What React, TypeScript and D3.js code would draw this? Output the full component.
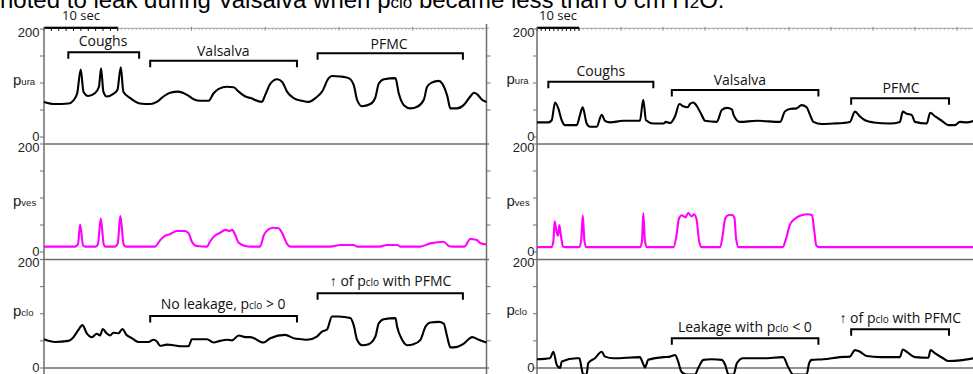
import React from 'react';
import * as d3 from 'd3';

type Pt = [number, number];

// ---------- data (time in seconds, pressure in cm H2O) ----------
const yTickValues = [0, 50, 100, 150, 200];
const yLabelValues = [0, 200];
const leftSpanSec = 60;
const rightSpanSec = 104;
const scaleBarSec = 10;
const scaleBarLabel = '10 sec';
const channelNames = ['ura', 'ves', 'clo'];

const leftPura: Pt[] = [[0,65],[1.5,61],[3.3,62],[4.0,68],[4.5,81],[4.98,125],[5.35,84],[6.0,76],[6.9,81],[7.45,93],[7.74,127],[8.05,84],[8.5,75],[9.4,80],[9.95,87],[10.41,129],[10.76,84],[11.7,72],[13.0,62],[14.4,61],[15.3,65],[16.2,75],[17.1,82],[18.2,84],[19.4,78],[20.3,70],[21.2,67],[22.3,67],[23.0,81],[23.7,89],[24.8,93],[25.7,92],[26.4,84],[27.3,75],[28.0,72],[29.55,65],[30.0,78],[30.7,99],[31.6,107],[32.3,102],[32.95,84],[33.85,72],[35.0,67],[35.9,65],[36.8,72],[37.7,84],[38.6,109],[39.05,113],[40.2,112],[41.3,109],[42.0,96],[42.45,69],[43.1,57],[44.25,61],[44.9,72],[45.4,99],[46.1,107],[47.65,109],[48.1,81],[48.8,59],[49.7,53],[50.6,56],[51.5,69],[51.95,93],[52.6,101],[53.5,104],[54.0,99],[54.7,75],[55.1,53],[56.0,53],[56.9,59],[57.8,75],[58.3,82],[58.75,79],[59.4,69],[60,65]];

const leftPves: Pt[] = [[0,10],[4.2,10],[4.6,14],[4.9,51],[5.3,12],[5.6,10],[7.0,10],[7.3,14],[7.7,62],[8.1,14],[8.3,10],[9.6,10],[10.0,16],[10.35,67],[10.8,14],[11.1,10],[15.05,10],[15.75,22],[16.4,30],[17.1,33],[18.0,39],[19.1,39],[19.6,35],[20.05,19],[20.7,11],[22.1,10],[22.5,19],[23.0,28],[23.9,36],[24.6,41],[25.2,39],[25.5,41],[25.95,31],[26.4,17],[27.3,11],[28.0,10],[29.3,10],[29.8,31],[30.45,42],[31.1,45],[31.8,44],[32.3,35],[32.95,15],[33.4,10],[38.8,10],[40.2,13],[42.0,13],[42.5,10],[45.5,10],[46.5,13],[47.9,13],[48.3,10],[51.0,10],[52.4,16],[54.2,19],[54.9,11],[55.5,10],[57.0,10],[57.8,24],[58.7,22],[59.2,16],[60,14]];

const leftPclo: Pt[] = [[0,53],[1.5,48],[3.3,50],[4.0,57],[4.65,70],[5.2,79],[5.8,64],[6.5,57],[7.15,63],[7.6,60],[7.97,72],[8.5,64],[8.96,60],[9.4,65],[10.1,64],[10.63,72],[11.2,61],[11.9,55],[12.8,48],[14.16,48],[14.84,52],[15.3,49],[15.75,41],[16.66,43],[17.55,42],[18.7,40],[19.6,40],[20.05,53],[21.18,53],[22.1,53],[23.0,47],[23.9,50],[24.8,52],[25.5,51],[26.4,60],[27.3,57],[27.96,57],[29.77,47],[30.68,55],[32.7,61],[33.84,55],[34.98,53],[35.66,52],[37.0,58],[37.7,67],[38.38,71],[39.05,95],[39.95,95],[41.54,92],[41.99,79],[42.45,52],[43.13,42],[44.02,44],[44.93,58],[45.38,82],[46.06,90],[47.65,92],[47.88,76],[48.56,52],[49.24,42],[50.13,44],[51.04,52],[51.72,76],[52.4,84],[53.52,85],[54.2,82],[54.66,58],[55.11,38],[56.02,39],[56.92,45],[58.06,57],[58.96,52],[60,47]];

const rightPura: Pt[] = [[0,27],[2.7,27],[3.5,31],[4.3,64],[5.07,53],[5.88,31],[6.67,22],[9.45,22],[10.24,41],[10.88,55],[11.83,25],[12.62,19],[14.2,19],[15.4,41],[16.2,30],[17.4,27],[20.5,30],[24.5,30],[25.3,69],[25.95,31],[27.7,25],[30.1,25],[30.7,28],[31.7,26],[32.9,39],[33.9,61],[34.8,57],[35.9,55],[36.4,61],[37.2,64],[37.9,59],[39.2,41],[40.0,30],[42.8,28],[44.0,50],[45.2,54],[46.4,51],[46.8,41],[48.3,28],[52.3,30],[57.9,28],[59.0,47],[60.2,52],[61.8,53],[63.0,59],[64.2,55],[65.0,41],[65.8,28],[67.8,24],[70.5,25],[72.9,26],[74.5,28],[75.7,47],[76.9,38],[78.1,31],[80.1,27],[84.0,25],[86.4,28],[87.1,47],[88.0,43],[89.2,41],[90.0,28],[92.8,25],[93.6,45],[94.8,38],[96.4,30],[97.9,22],[99.5,22],[100.7,28],[102.3,27],[104,30]];

const rightPves: Pt[] = [[0,9],[3.4,9],[3.9,20],[4.2,57],[4.6,40],[5.0,30],[5.3,50],[5.7,30],[6.2,10],[6.8,9],[10.0,9],[10.5,20],[10.9,68],[11.3,20],[11.8,9],[24.5,9],[25.0,20],[25.3,72],[25.7,20],[26.2,9],[32.5,9],[33.2,30],[33.8,62],[34.5,68],[35.3,64],[36.0,72],[36.8,66],[37.4,70],[38.0,60],[38.6,20],[39.2,9],[43.6,9],[44.2,30],[44.8,62],[45.5,68],[46.4,69],[47.0,64],[47.4,25],[48.0,9],[58.5,9],[59.3,25],[60.2,50],[61.5,62],[63.0,68],[64.5,70],[65.5,68],[66.0,40],[66.5,12],[67.2,9],[104,9]];

const rightPclo: Pt[] = [[0,16],[3.1,18],[3.9,30],[4.7,6],[5.5,0],[5.9,12],[9.45,18],[10.1,18],[10.6,0],[11.0,-12],[11.8,-12],[12.2,9],[13.8,18],[15.4,30],[16.2,21],[18.2,18],[24.5,20],[25.2,9],[25.7,1],[26.5,15],[30.1,20],[31.7,21],[32.9,24],[33.6,12],[34.4,-7],[35.6,-12],[37.6,-12],[38.4,0],[39.6,15],[41.6,16],[44.0,15],[44.8,6],[45.6,-12],[46.8,-12],[47.6,9],[49.1,18],[53.9,18],[58.6,20],[59.8,2],[61.0,-12],[64.2,-12],[64.8,9],[65.4,15],[68.2,16],[72.1,20],[74.5,21],[75.7,33],[76.9,30],[78.5,22],[81.7,20],[86.4,20],[87.1,34],[88.0,30],[90.0,20],[93.2,19],[93.7,33],[94.8,27],[96.7,18],[97.9,13],[100.7,14],[104,18]];

type Part = [string, boolean]; // [text, isSubscript]
type Ann = { row: number; t0: number; t1: number; tc: number; parts: Part[] };

const titleParts: Part[] = [
  ['noted to leak during Valsalva when p', false], ['clo', true],
  [' became less than 0 cm H', false], ['2', true], ['O.', false],
];

const leftAnnotations: Ann[] = [
  { row: 0, t0: 3.3, t1: 12.9, tc: 8.0, parts: [['Coughs', false]] },
  { row: 0, t0: 14.4, t1: 34.3, tc: 24.3, parts: [['Valsalva', false]] },
  { row: 0, t0: 37.1, t1: 56.8, tc: 46.8, parts: [['PFMC', false]] },
  { row: 2, t0: 14.4, t1: 34.3, tc: 24.3, parts: [['No leakage, p', false], ['clo', true], [' > 0', false]] },
  { row: 2, t0: 37.1, t1: 56.8, tc: 47.0, parts: [['\u2191 of p', false], ['clo', true], [' with PFMC', false]] },
];
const rightAnnotations: Ann[] = [
  { row: 0, t0: 2.7, t1: 27.7, tc: 15.2, parts: [['Coughs', false]] },
  { row: 0, t0: 32.1, t1: 67.0, tc: 48.3, parts: [['Valsalva', false]] },
  { row: 0, t0: 74.8, t1: 98.1, tc: 86.7, parts: [['PFMC', false]] },
  { row: 2, t0: 32.1, t1: 67.0, tc: 49.5, parts: [['Leakage with p', false], ['clo', true], [' < 0', false]] },
  { row: 2, t0: 74.8, t1: 98.1, tc: 86.5, parts: [['\u2191 of p', false], ['clo', true], [' with PFMC', false]] },
];

// ---------- layout ----------
const W = 973;
const H = 374;
const ROWS = [
  { y200: 29, y0: 137 },
  { y200: 144, y0: 252 },
  { y200: 259.5, y0: 368 },
];
const AXIS = '#6e6e6e';
const RULER = '#9a9a9a';
const LABEL_FONT = "'Open Sans', 'Noto Sans', sans-serif";
const NUM_FONT = "'Liberation Sans', Arial, sans-serif";

type Layout = {
  xStart: number;
  xEnd: number;
  lineEnd: number;
  rightBorder: boolean;
  minorStep: number;
  rowLabelX: number;
  rowLabelBase: number[];
  annBracketY: number[];
  annBaseY: number[];
  scaleLabelX: number;
  tickLabelGap: number;
};

const leftLayout: Layout = {
  xStart: 44, xEnd: 486.5, lineEnd: 489, rightBorder: true, minorStep: 0.5,
  rowLabelX: 13, rowLabelBase: [84.5, 206, 316],
  annBracketY: [52.3, 60.7, 53.3, 316, 293.3],
  annBaseY: [46, 55.5, 49, 309, 286],
  scaleLabelX: 81, tickLabelGap: 4.5,
};
const rightLayout: Layout = {
  xStart: 537, xEnd: 973.8, lineEnd: 975, rightBorder: false, minorStep: 1,
  rowLabelX: 506.5, rowLabelBase: [83.5, 206, 314.5],
  annBracketY: [81.7, 90, 98.3, 338.3, 329.3],
  annBaseY: [75.5, 85, 92.5, 332, 322.5],
  scaleLabelX: 558, tickLabelGap: 2.5,
};

function Panel({ layout, span, series, anns }: { layout: Layout; span: number; series: Pt[][]; anns: Ann[] }) {
  const x = d3.scaleLinear().domain([0, span]).range([layout.xStart, layout.xEnd]);
  const x0 = layout.xStart;
  const rulerY = 28.3;
  const minorTicks = d3.range(scaleBarSec, span + 0.001, layout.minorStep);
  const barTicks = d3.range(0, scaleBarSec + 1);
  return (
    <g>
      {/* time ruler on top */}
      <line x1={x0} x2={layout.lineEnd} y1={rulerY} y2={rulerY} stroke={RULER} strokeWidth={0.9} />
      {minorTicks.map((s, k) => {
        const major = Math.abs(s % 10) < 1e-6;
        return (
          <line key={'st' + k} x1={x(s)} x2={x(s)} y1={rulerY - (major ? 1.5 : 0)} y2={rulerY + (major ? 2.5 : 1.6)}
            stroke={major ? AXIS : RULER} strokeWidth={0.8} />
        );
      })}
      <rect x={x(0)} y={rulerY - 1.6} width={x(scaleBarSec) - x(0)} height={2.2} fill="#000" />
      {barTicks.map((s) => (
        <line key={'bt' + s} x1={x(s)} x2={x(s)} y1={rulerY} y2={rulerY + 2.6} stroke="#000" strokeWidth={1} />
      ))}
      <text x={layout.scaleLabelX} y={19.5} fontFamily={LABEL_FONT} fontSize={13} textAnchor="middle" fill="#111">{scaleBarLabel}</text>

      {/* y axis */}
      <line x1={x0} x2={x0} y1={27} y2={H + 2} stroke={AXIS} strokeWidth={1.5} />
      {layout.rightBorder && (
        <line x1={layout.xEnd} x2={layout.xEnd} y1={24} y2={H + 2} stroke={AXIS} strokeWidth={1.5} />
      )}

      {ROWS.map((r, i) => {
        const y = d3.scaleLinear().domain([0, 200]).range([r.y0, r.y200]);
        const line = d3.line<Pt>().x((d) => x(d[0])).y((d) => y(d[1])).curve(d3.curveMonotoneX);
        return (
          <g key={'row' + i}>
            {i > 0 && (
              <line x1={x0} x2={layout.lineEnd} y1={y(200)} y2={y(200)} stroke={AXIS} strokeWidth={1.4} />
            )}
            {i === 2 && (
              <line x1={x0} x2={layout.lineEnd} y1={y(0)} y2={y(0)} stroke={AXIS} strokeWidth={1.4} />
            )}
            {yTickValues.map((v) => (
              <line key={'yt' + v} x1={x0 - 4} x2={x0} y1={y(v)} y2={y(v)} stroke={AXIS} strokeWidth={1} />
            ))}
            {layout.rightBorder && yTickValues.filter((v) => v > 0 && v < 200).map((v) => (
              <line key={'rt' + v} x1={layout.xEnd} x2={layout.xEnd + 4} y1={y(v)} y2={y(v)} stroke={AXIS} strokeWidth={1} />
            ))}
            {yLabelValues.map((v) => (
              <text key={'yl' + v} x={x0 - layout.tickLabelGap} y={v === 200 ? y(v) + 7.5 : y(v) + 3.5}
                fontFamily={NUM_FONT} fontSize={13} textAnchor="end" fill="#222">{String(v)}</text>
            ))}
            <text x={layout.rowLabelX} y={layout.rowLabelBase[i]} fontFamily={NUM_FONT} fill="#222">
              <tspan fontSize={15}>p</tspan>
              <tspan fontSize={9.5}>{channelNames[i]}</tspan>
            </text>
            <path d={line(series[i]) || ''} fill="none" stroke={i === 1 ? '#ff00ff' : '#000'} strokeWidth={2.1} strokeLinejoin="round" />
          </g>
        );
      })}

      {anns.map((a, k) => {
        const by = layout.annBracketY[k];
        return (
          <g key={'ann' + k}>
            <path d={`M${x(a.t0)},${by + 6.5}V${by}H${x(a.t1)}V${by + 6.5}`} fill="none" stroke="#000" strokeWidth={2} />
            <text x={x(a.tc)} y={layout.annBaseY[k]} fontFamily={LABEL_FONT} fontSize={14} textAnchor="middle" fill="#111">
              {a.parts.map((p, j) => (
                <tspan key={j} fontSize={p[1] ? 10 : 14}>{p[0]}</tspan>
              ))}
            </text>
          </g>
        );
      })}
    </g>
  );
}

export default function App() {
  return (
    <svg width={W} height={H} viewBox={`0 0 ${W} ${H}`}
      style={{ position: 'absolute', left: 0, top: 0, background: '#fff', overflow: 'hidden' }}>
      <rect x={0} y={0} width={W} height={H} fill="#fff" />
      <text x={0} y={8.3} fontFamily={NUM_FONT} fontSize={24} fill="#000">
        {titleParts.map((p, j) => (
          <tspan key={j} fontSize={p[1] ? 17 : 24}>{p[0]}</tspan>
        ))}
      </text>
      <Panel layout={leftLayout} span={leftSpanSec} series={[leftPura, leftPves, leftPclo]} anns={leftAnnotations} />
      <Panel layout={rightLayout} span={rightSpanSec} series={[rightPura, rightPves, rightPclo]} anns={rightAnnotations} />
    </svg>
  );
}
